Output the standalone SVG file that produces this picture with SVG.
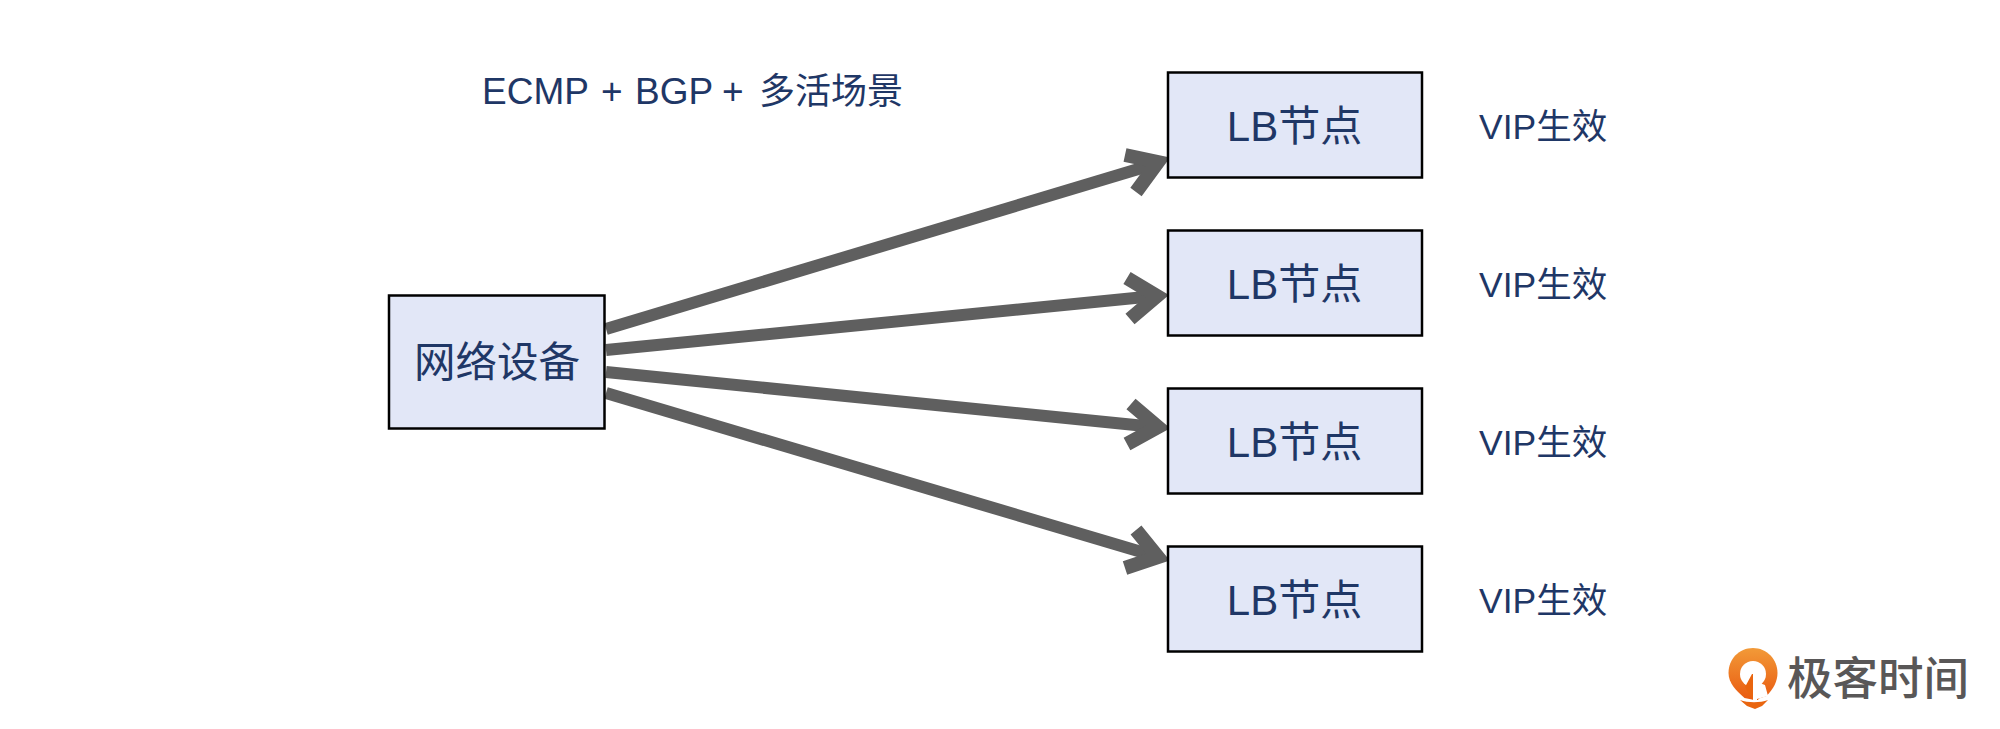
<svg xmlns="http://www.w3.org/2000/svg" width="2000" height="729" viewBox="0 0 2000 729">
<style>
.box{fill:#e2e7f7;stroke:#000;stroke-width:2.500}
text{font-family:"Liberation Sans","Noto Sans CJK SC",sans-serif;fill:#1f3766}
.n{font-size:42px;text-anchor:middle}
.v{font-size:35.500px}
.s{fill:none;stroke:#5f5f5f;stroke-width:12}
.h{fill:none;stroke:#5f5f5f;stroke-width:14;stroke-linejoin:miter}
</style>
<defs>
<linearGradient id="lg" x1="0" y1="0" x2="0" y2="1"><stop offset="0" stop-color="#f29a38"/><stop offset="1" stop-color="#e95a10"/></linearGradient>
</defs>
<rect width="2000" height="729" fill="#fff"/>
<g id="connectors">
<path class="s" d="M606 329L1155 164"/><path class="h" d="M1125 155L1158 162L1136 192"/>
<path class="s" d="M606 350L1155 296"/><path class="h" d="M1127 278L1157 296L1130 319"/>
<path class="s" d="M606 372L1155 427"/><path class="h" d="M1131 404L1158 427L1127 444"/>
<path class="s" d="M606 393L1155 556"/><path class="h" d="M1136 530L1158 557L1125 568"/>
</g>
<g id="device"><rect class="box" x="389" y="295.500" width="215.500" height="133"/><text class="n" x="497" y="376.500" style="font-size:41.500px">网络设备</text></g>
<g id="lb1"><rect class="box" x="1168" y="72.500" width="254" height="105"/><text class="n" x="1294.500" y="141">LB节点</text></g>
<g id="lb2"><rect class="box" x="1168" y="230.500" width="254" height="105"/><text class="n" x="1294.500" y="299">LB节点</text></g>
<g id="lb3"><rect class="box" x="1168" y="388.500" width="254" height="105"/><text class="n" x="1294.500" y="457">LB节点</text></g>
<g id="lb4"><rect class="box" x="1168" y="546.500" width="254" height="105"/><text class="n" x="1294.500" y="615">LB节点</text></g>
<text class="v" x="1479" y="138.500">VIP生效</text>
<text class="v" x="1479" y="296.500">VIP生效</text>
<text class="v" x="1479" y="454.500">VIP生效</text>
<text class="v" x="1479" y="612.500">VIP生效</text>
<text y="104" style="font-size:37px" xml:space="preserve"><tspan x="482">ECMP</tspan><tspan x="601">+</tspan><tspan x="635">BGP</tspan><tspan x="722">+</tspan><tspan x="759" style="font-size:36px">多活场景</tspan></text>
<g id="logo" transform="translate(0 2)">
<path fill="url(#lg)" d="M1753 646c-14 0-24.500 11-24.500 25c0 10 8 18 16 25l10 2l12-4c7-7 11-15 11-23c0-14-11-25-24.500-25z"/>
<circle cx="1753" cy="672" r="13" fill="#fff"/>
<path fill="#e9650f" d="M1752 672L1745 685L1753 698H1758L1766 682L1757 684V672z"/>
<path fill="#fff" d="M1753 672h4v26l-4 0z"/>
<path fill="#fff" d="M1757 680l8 3l3 11l-11 3z"/>
<path fill="#e9650f" d="M1740 698c8 3 20 3 28 0l-6 6-7 3-8-3z"/>
<text x="1787" y="693" style="font-size:45.500px;fill:#595757;font-family:'Noto Sans CJK SC',sans-serif;font-weight:500">极客时间</text>
</g>
</svg>
